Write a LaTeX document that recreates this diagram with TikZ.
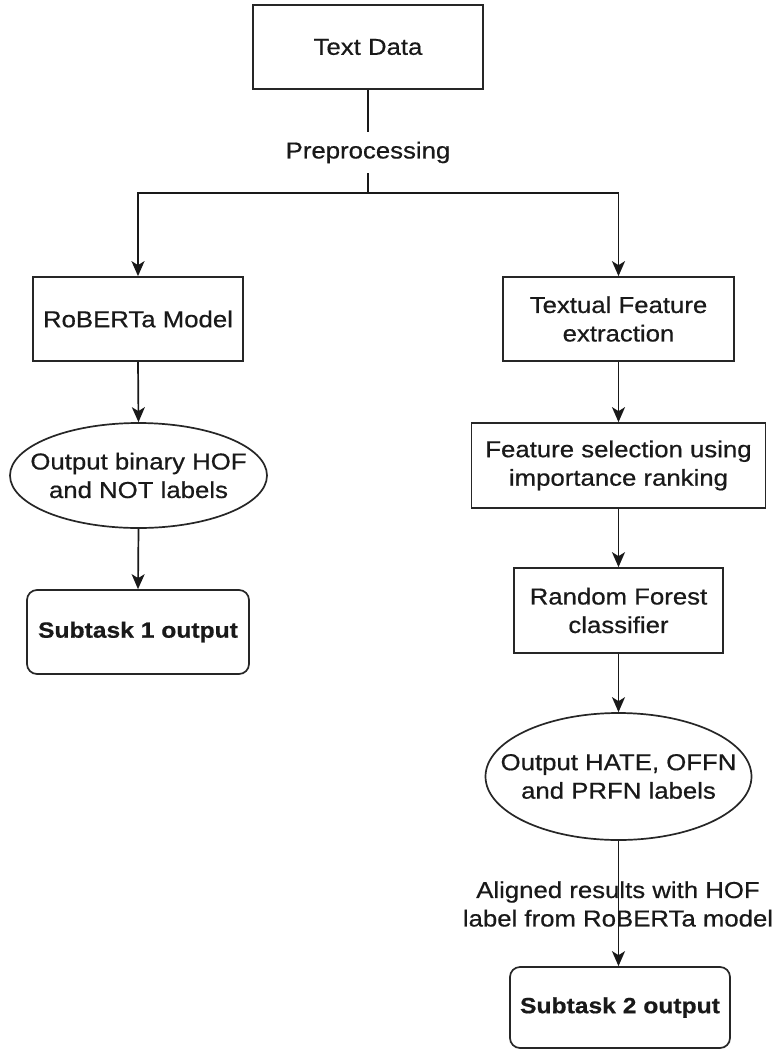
\documentclass[tikz,border=0pt]{standalone}
\usepackage{fontspec}
\setmainfont{Liberation Sans}[FakeStretch=1.12,FakeBold=0.6]
\usetikzlibrary{shapes.geometric,arrows.meta}
\begin{document}
\begin{tikzpicture}[x=1pt,y=-1pt,
  every node/.style={font=\fontsize{23}{28.5}\selectfont, text=black!90},
  box/.style={draw=black!85, line width=1.7pt, inner sep=0pt, align=center},
  rbox/.style={box, rounded corners=10pt},
  ell/.style={draw=black!85, line width=1.7pt, ellipse, inner sep=0pt},
  lbl/.style={inner sep=0pt, align=center},
  conn/.style={draw=black!90, line width=1.7pt},
  arr/.style={conn, -{Stealth[length=15pt,width=13pt,inset=4pt]}}
]
\useasboundingbox (0,0) rectangle (782,1050);
\fill[white] (0,0) rectangle (782,1050);

\node[box, minimum width=230pt, minimum height=84pt] (td) at (368,47) {Text Data};
\node[lbl, minimum height=41pt] (pre) at (368,152.5) {Preprocessing};
\coordinate (j) at (368,193);

\node[box, minimum width=210pt, minimum height=84pt] (rob) at (138,319) {RoBERTa Model};
\node[ell, minimum width=257pt, minimum height=105pt] (e1) at (138.5,475.5) {};
\node[lbl] (e1t) at (e1) {Output binary HOF\\and NOT labels};
\node[rbox, minimum width=222pt, minimum height=84pt] (s1) at (138,632) {\fontsize{22}{28.5}\selectfont\bfseries Subtask 1 output};

\node[box, minimum width=231pt, minimum height=84pt] (tfe) at (618.5,319) {Textual Feature\\extraction};
\node[box, minimum width=294pt, minimum height=85pt] (fs) at (618.5,465.5) {Feature selection using\\importance ranking};
\node[box, minimum width=209pt, minimum height=85pt] (rf) at (618.5,610.5) {Random Forest\\classifier};
\node[ell, minimum width=266pt, minimum height=127pt] (e2) at (618.5,776.5) {};
\node[lbl] (e2t) at (e2) {Output HATE, OFFN\\and PRFN labels};
\node[rbox, minimum width=220pt, minimum height=81pt] (s2) at (620,1007.5) {\fontsize{22}{28.5}\selectfont\bfseries Subtask 2 output};

\draw[conn] (td.south) -- (pre.north);
\draw[conn] (pre.south) -- (j);
\draw[arr] (j) -| (rob.north);
\draw[arr] (j) -| (tfe.north);
\draw[arr] (rob.south) -- (e1.north);
\draw[arr] (e1.south) -- (s1.north);
\draw[arr] (tfe.south) -- (fs.north);
\draw[arr] (fs.south) -- (rf.north);
\draw[arr] (rf.south) -- (e2.north);
\draw[arr] (e2.south) -- (e2.south |- s2.north);
\node[lbl] (al) at (618,904) {Aligned results with HOF\\label from RoBERTa model};
\end{tikzpicture}
\end{document}
